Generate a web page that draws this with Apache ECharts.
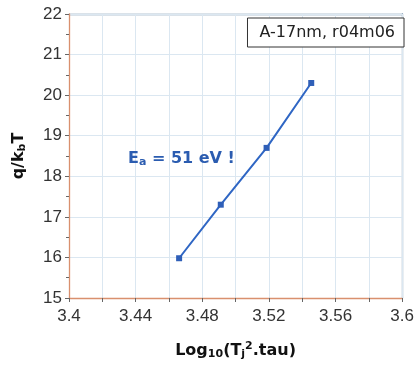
<!DOCTYPE html>
<html><head><meta charset="utf-8">
<script src="https://cdn.jsdelivr.net/npm/echarts@6/dist/echarts.min.js"></script>
<style>html,body{margin:0;padding:0;background:#fff}#c{width:417px;height:365px}</style>
</head><body><div id="c"></div>
<script>
var seriesName = 'A-17nm, r04m06';
var xValues = [3.4661, 3.4911, 3.5186, 3.5454];
var yValues = [15.98, 17.30, 18.70, 20.30];
var xTickLabels = ['3.4', '3.44', '3.48', '3.52', '3.56', '3.6'];
var yTickLabels = ['15', '16', '17', '18', '19', '20', '21', '22'];

var chart = echarts.init(document.getElementById('c'));
var axisCol = '#d9906e';
var borderCol = '#6d8aa6';
var gridCol = '#dbe7f1';
var txt = '#333';
var blue = '#2b5cb0';
chart.setOption({
  animation: false,
  title: {
    text: '{b|E}{s|a}{b| = 51 eV !}',
    left: 123, top: 144,
    textStyle: {
      rich: {
        b: {fontFamily: 'DejaVu Sans', fontWeight: 'bold', fontSize: 16, color: blue},
        s: {fontFamily: 'DejaVu Sans', fontWeight: 'bold', fontSize: 11, color: blue, verticalAlign: 'bottom', padding: [8,0,0,0]}
      }
    }
  },
  grid: {left: 69, top: 14, right: 12, bottom: 65, show: false},
  legend: {
    data: [{name: seriesName, icon: 'none'}],
    right: 13, top: 18, itemWidth: 0, itemGap: 0,
    padding: [7, 9, 6, 7],
    borderColor: '#333', borderWidth: 1, backgroundColor: '#fff',
    textStyle: {fontFamily: 'DejaVu Sans', fontSize: 16, color: '#222', padding: [0,0,0,0]}
  },
  xAxis: [{
    type: 'value', min: 3.4, max: 3.6, interval: 0.04, position: 'bottom', z: 3,
    axisLine: {onZero: false, lineStyle: {color: axisCol, width: 1.3}},
    axisTick: {show: true, inside: false, length: 4, lineStyle: {color: '#666'}},
    minorTick: {show: true, splitNumber: 2, length: 4, lineStyle: {color: '#666'}},
    splitLine: {show: true, lineStyle: {color: gridCol}},
    minorSplitLine: {show: true, lineStyle: {color: gridCol}},
    axisLabel: {
      fontFamily: 'Liberation Sans', fontSize: 17, color: txt, margin: 10,
      formatter: function (v) {
        var i = Math.round((v - 3.4) / 0.04);
        return xTickLabels[i] || '';
      }
    },
    name: '{b|Log}{s|10}{b|(T}{s|j}{p|2}{b|.tau)}',
    nameLocation: 'middle', nameGap: 43,
    nameTextStyle: {
      rich: {
        b: {fontFamily: 'DejaVu Sans', fontWeight: 'bold', fontSize: 16, color: '#111'},
        s: {fontFamily: 'DejaVu Sans', fontWeight: 'bold', fontSize: 11, color: '#111', verticalAlign: 'bottom', padding: [8,0,0,0]},
        p: {fontFamily: 'DejaVu Sans', fontWeight: 'bold', fontSize: 11, color: '#111', verticalAlign: 'top', padding: [0,0,8,0]}
      }
    }
  }, {
    type: 'value', min: 3.4, max: 3.6, position: 'top', z: 2,
    axisLine: {show: true, onZero: false, lineStyle: {color: borderCol, width: 1.3}},
    axisTick: {show: false}, axisLabel: {show: false}, splitLine: {show: false}
  }],
  yAxis: [{
    type: 'value', min: 15, max: 22, interval: 1, position: 'left', z: 3,
    axisLine: {show: true, onZero: false, lineStyle: {color: axisCol, width: 1.3}},
    axisTick: {show: true, inside: false, length: 4, lineStyle: {color: '#666'}},
    minorTick: {show: true, splitNumber: 2, length: 3, lineStyle: {color: '#666'}},
    splitLine: {show: true, lineStyle: {color: gridCol}},
    axisLabel: {
      fontFamily: 'Liberation Sans', fontSize: 17, color: txt, margin: 7,
      formatter: function (v) { return yTickLabels[Math.round(v - 15)] || ''; }
    },
    name: '{b|q/k}{s|b}{b|T}',
    nameLocation: 'middle', nameGap: 41, nameRotate: 90,
    nameTextStyle: {
      rich: {
        b: {fontFamily: 'DejaVu Sans', fontWeight: 'bold', fontSize: 16, color: '#111'},
        s: {fontFamily: 'DejaVu Sans', fontWeight: 'bold', fontSize: 11, color: '#111', verticalAlign: 'bottom', padding: [8,0,0,0]}
      }
    }
  }, {
    type: 'value', min: 15, max: 22, position: 'right', z: 2,
    axisLine: {show: true, onZero: false, lineStyle: {color: borderCol, width: 1.3}},
    axisTick: {show: false}, axisLabel: {show: false}, splitLine: {show: false}
  }],
  series: [{
    name: seriesName, type: 'line', xAxisIndex: 0, yAxisIndex: 0,
    data: xValues.map(function (x, i) { return [x, yValues[i]]; }),
    symbol: 'rect', symbolSize: 6, showSymbol: true,
    lineStyle: {color: '#2f66c4', width: 2},
    itemStyle: {color: '#2f5fb8'}
  }]
});
</script></body></html>
